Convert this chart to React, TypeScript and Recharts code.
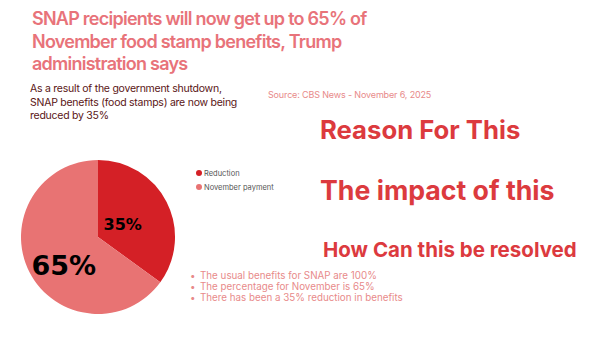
import { PieChart, Pie, Cell, Legend } from "recharts"

const categories = ["Reduction", "November payment"]
const shares = [35, 65]
const sliceColors = ["#d42026", "#e87373"]
const labelSizes = [16, 27]

const titleLines = [
  "SNAP recipients will now get up to 65% of",
  "November food stamp benefits, Trump",
  "administration says",
]
const subtitleLines = [
  "As a result of the government shutdown,",
  "SNAP benefits (food stamps) are now being",
  "reduced by 35%",
]
const sourceText = "Source: CBS News - November 6, 2025"
const headings = ["Reason For This", "The impact of this", "How Can this be resolved"]
const bullets = [
  "The usual benefits for SNAP are 100%",
  "The percentage for November is 65%",
  "There has been a 35% reduction in benefits",
]

const data = categories.map((name, i) => ({ name, value: shares[i] }))

const RAD = Math.PI / 180

function renderLabel(props: any) {
  const { cx, cy, midAngle, outerRadius, index, value } = props
  const big = labelSizes[index] > 20
  const r = outerRadius * (big ? 0.5 : 0.36)
  const x = cx + r * Math.cos(-midAngle * RAD)
  const y = cy + r * Math.sin(-midAngle * RAD) + (big ? 11 : 0)
  return (
    <text
      x={x}
      y={y}
      fill="#000"
      textAnchor="middle"
      dominantBaseline="central"
      fontFamily="DejaVu Sans, sans-serif"
      fontWeight="bold"
      fontSize={labelSizes[index]}
    >
      {value}%
    </text>
  )
}

function renderLegend(props: any) {
  const payload = [...(props.payload || [])].sort(
    (a: any, b: any) => categories.indexOf(a.value) - categories.indexOf(b.value)
  )
  return (
    <div>
      {payload.map((p: any) => (
        <div key={p.value} style={{ display: "flex", alignItems: "center", height: 14 }}>
          <span
            style={{
              width: 6,
              height: 6,
              borderRadius: 3,
              background: p.color,
              marginRight: 2,
              display: "inline-block",
            }}
          />
          <span style={{ fontSize: 7.5, color: "#555", fontFamily: "Inter, sans-serif" }}>{p.value}</span>
        </div>
      ))}
    </div>
  )
}

export default function App() {
  return (
    <div
      style={{
        position: "absolute",
        left: 0,
        top: 0,
        width: 600,
        height: 338,
        background: "#fff",
        overflow: "hidden",
        fontFamily: "Inter, sans-serif",
      }}
    >
      <PieChart width={600} height={338} style={{ position: "absolute", left: 0, top: 0 }}>
        <Pie
          data={data}
          dataKey="value"
          nameKey="name"
          cx={93}
          cy={232}
          outerRadius={77}
          startAngle={90}
          endAngle={-270}
          stroke="none"
          label={renderLabel}
          labelLine={false}
          isAnimationActive={false}
        >
          {data.map((d, i) => (
            <Cell key={d.name} fill={sliceColors[i]} />
          ))}
        </Pie>
        <Legend
          layout="vertical"
          content={renderLegend}
          wrapperStyle={{ left: 196, top: 166, width: 120 }}
        />
      </PieChart>

      <div
        style={{
          position: "absolute",
          left: 32,
          top: 8,
          fontSize: 18,
          lineHeight: "22.5px",
          letterSpacing: -0.75,
          fontWeight: 600,
          color: "#e8737a",
        }}
      >
        {titleLines.map((l) => (
          <div key={l}>{l}</div>
        ))}
      </div>

      <div
        style={{
          position: "absolute",
          left: 30,
          top: 82,
          fontSize: 10.5,
          lineHeight: "13.5px",
          letterSpacing: -0.25,
          color: "#5a1515",
        }}
      >
        {subtitleLines.map((l) => (
          <div key={l}>{l}</div>
        ))}
      </div>

      <div style={{ position: "absolute", left: 268, top: 89, fontSize: 9, letterSpacing: -0.15, color: "#e88a8a" }}>
        {sourceText}
      </div>

      <div style={{ position: "absolute", left: 320, top: 114, fontSize: 25.7, fontWeight: 700, color: "#dc3a3e" }}>
        {headings[0]}
      </div>
      <div style={{ position: "absolute", left: 320, top: 174, fontSize: 26.7, fontWeight: 700, color: "#dc3a3e" }}>
        {headings[1]}
      </div>
      <div style={{ position: "absolute", left: 323, top: 237, fontSize: 20.5, fontWeight: 700, color: "#dc3a3e" }}>
        {headings[2]}
      </div>

      <div style={{ position: "absolute", left: 190, top: 270, fontSize: 9.8, lineHeight: "11px", color: "#e88a8a" }}>
        {bullets.map((b) => (
          <div key={b} style={{ display: "flex", height: 11 }}>
            <span style={{ width: 10 }}>•</span>
            <span>{b}</span>
          </div>
        ))}
      </div>
    </div>
  )
}
